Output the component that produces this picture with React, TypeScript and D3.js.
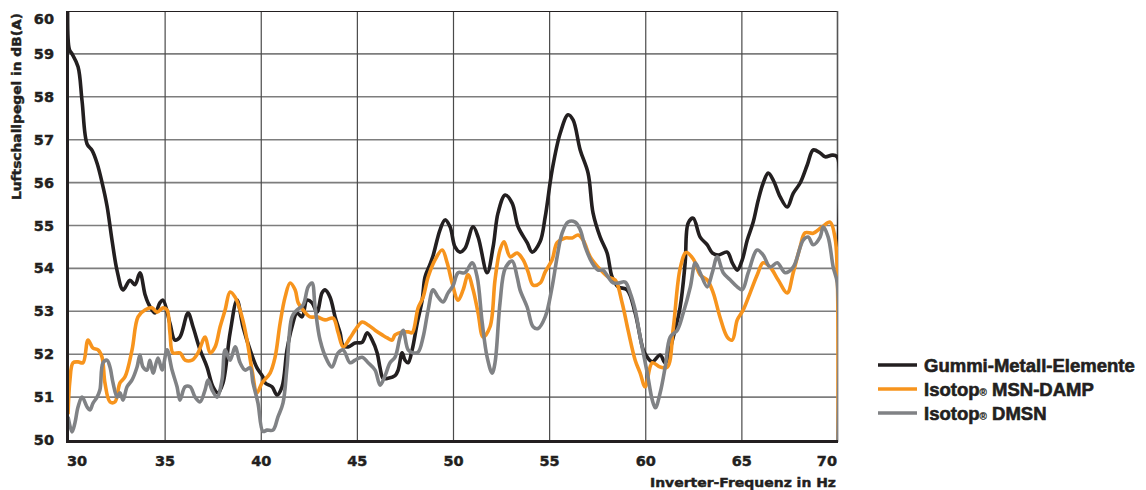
import React, { useEffect, useRef } from "react";
import * as d3 from "d3";

// readings: [frequency in Hz, level in dB(A)]
const gummi: [number, number][] = [
  [29.95, 60.6], [30.02, 59.1], [30.16, 59.0], [30.47, 58.7], [30.68, 57.9], [30.94, 56.9],
  [31.2, 56.75], [31.46, 56.45], [31.72, 56.0], [31.98, 55.45], [32.24, 54.65], [32.5, 53.95],
  [32.81, 53.5], [33.17, 53.72], [33.43, 53.62], [33.69, 53.9], [33.95, 53.4], [34.11, 53.2],
  [34.47, 52.96], [34.73, 53.2], [34.89, 53.26], [35.25, 52.72], [35.51, 52.33], [35.77, 52.4],
  [36.19, 52.96], [36.45, 52.64], [36.82, 52.1], [37.18, 51.7], [37.49, 51.24], [37.75, 51.1],
  [38.01, 51.33], [38.38, 52.5], [38.74, 53.26], [39.05, 52.64], [39.42, 52.1], [39.78, 51.68],
  [40.09, 51.47], [40.2, 51.33], [40.56, 51.24], [40.82, 51.05], [41.08, 51.24], [41.34, 52.1],
  [41.6, 52.64], [41.86, 52.96], [42.12, 52.87], [42.38, 53.26], [42.64, 53.2], [42.9, 52.98],
  [43.16, 53.43], [43.32, 53.5], [43.58, 53.33], [43.84, 52.87], [44.1, 52.5], [44.26, 52.2],
  [44.52, 52.17], [44.88, 52.26], [45.25, 52.28], [45.51, 52.5], [45.77, 52.33], [46.03, 52.03],
  [46.18, 51.68], [46.34, 51.44], [46.6, 51.44], [46.96, 51.5], [47.12, 51.63], [47.33, 52.03],
  [47.48, 51.86], [47.64, 51.8], [47.85, 52.1], [48.11, 52.72], [48.37, 53.26], [48.52, 53.8],
  [48.78, 54.1], [48.94, 54.3], [49.3, 54.9], [49.56, 55.13], [49.82, 54.97], [50.08, 54.5],
  [50.34, 54.38], [50.6, 54.47], [51.02, 54.97], [51.28, 54.73], [51.75, 53.9], [52.06, 54.5],
  [52.32, 55.3], [52.69, 55.71], [53.05, 55.52], [53.36, 54.97], [53.83, 54.6], [54.09, 54.38],
  [54.5, 54.62], [54.77, 55.2], [55.13, 56.29], [55.55, 57.15], [55.96, 57.58], [56.22, 57.46],
  [56.59, 56.76], [57.0, 56.22], [57.26, 55.29], [57.63, 54.73], [57.99, 54.36], [58.25, 53.8],
  [58.57, 53.57], [59.03, 53.5], [59.45, 52.96], [59.87, 52.1], [60.08, 51.93], [60.34, 51.82],
  [60.75, 51.98], [61.01, 51.8], [61.43, 52.4], [61.79, 53.1], [62.05, 54.13], [62.21, 55.06],
  [62.47, 55.17], [62.83, 54.73], [63.2, 54.55], [63.46, 54.36], [63.77, 54.31], [64.24, 54.38],
  [64.5, 54.13], [64.76, 53.96], [65.02, 54.2], [65.28, 54.66], [65.59, 55.08], [65.85, 55.59],
  [66.11, 55.99], [66.37, 56.22], [66.63, 56.06], [67.0, 55.66], [67.36, 55.43], [67.67, 55.75],
  [68.03, 55.99], [68.4, 56.41], [68.71, 56.76], [69.07, 56.69], [69.33, 56.6], [69.7, 56.64],
  [69.96, 56.6], [70.0, 54.5],
];

const msnDamp: [number, number][] = [
  [29.95, 50.6], [30.05, 51.4], [30.21, 51.8], [30.47, 51.82], [30.73, 51.8], [30.99, 52.33],
  [31.25, 52.14], [31.51, 52.1], [31.72, 51.93], [31.87, 51.33], [32.13, 50.89], [32.39, 50.89],
  [32.65, 51.33], [32.91, 51.47], [33.28, 52.1], [33.59, 52.87], [33.95, 53.03], [34.32, 53.08],
  [34.58, 52.98], [34.89, 53.08], [35.1, 53.03], [35.25, 52.5], [35.41, 52.03], [35.77, 52.03],
  [36.04, 51.86], [36.4, 51.86], [36.71, 52.03], [37.08, 52.4], [37.34, 52.03], [37.6, 52.17],
  [37.86, 52.64], [38.12, 53.03], [38.38, 53.45], [38.64, 53.33], [39.0, 52.87], [39.26, 52.33],
  [39.52, 51.63], [39.78, 51.1], [40.04, 51.33], [40.46, 51.56], [40.72, 51.93], [40.98, 52.72],
  [41.24, 53.33], [41.5, 53.66], [41.76, 53.5], [41.92, 53.2], [42.18, 53.03], [42.54, 52.87],
  [42.9, 52.87], [43.32, 52.8], [43.74, 52.84], [44.0, 52.5], [44.26, 52.17], [44.62, 52.38],
  [44.88, 52.56], [45.25, 52.75], [45.56, 52.68], [45.92, 52.56], [46.29, 52.45], [46.55, 52.38],
  [46.81, 52.33], [46.96, 52.45], [47.33, 52.52], [47.64, 52.52], [47.85, 52.5], [48.16, 53.08],
  [48.42, 53.33], [48.68, 53.8], [49.04, 54.2], [49.41, 54.43], [49.67, 54.13], [49.93, 53.66],
  [50.24, 53.26], [50.5, 53.5], [50.76, 53.85], [51.02, 53.5], [51.28, 52.96], [51.54, 52.4],
  [51.9, 52.64], [52.16, 53.73], [52.42, 54.43], [52.63, 54.62], [52.95, 54.27], [53.31, 54.36],
  [53.62, 54.2], [53.88, 53.92], [54.14, 53.61], [54.51, 53.66], [54.77, 53.92], [55.13, 54.2],
  [55.39, 54.6], [55.81, 54.71], [56.17, 54.71], [56.48, 54.78], [56.74, 54.66], [57.11, 54.27],
  [57.52, 54.03], [58.04, 53.8], [58.41, 53.73], [58.77, 53.2], [59.08, 52.56], [59.45, 51.86],
  [59.71, 51.56], [59.97, 51.24], [60.34, 51.8], [60.75, 51.7], [61.12, 51.7], [61.43, 52.6],
  [61.79, 54.0], [62.1, 54.37], [62.47, 54.22], [62.83, 53.85], [63.2, 53.73], [63.51, 53.43],
  [63.87, 52.85], [64.24, 52.4], [64.5, 52.33], [64.76, 52.8], [65.07, 53.03], [65.43, 53.43],
  [65.8, 53.85], [66.11, 54.13], [66.47, 54.03], [66.89, 53.73], [67.36, 53.43], [67.67, 53.9],
  [68.03, 54.5], [68.29, 54.83], [68.71, 54.82], [69.18, 54.97], [69.59, 55.08], [69.85, 54.7],
  [69.96, 53.9], [70.0, 50.0],
];

const dmsn: [number, number][] = [
  [29.95, 50.54], [30.16, 50.19], [30.31, 50.4], [30.47, 50.77], [30.68, 51.0], [30.94, 50.77],
  [31.09, 50.7], [31.25, 50.86], [31.46, 51.0], [31.61, 51.17], [31.77, 51.8], [31.98, 51.86],
  [32.13, 51.7], [32.29, 51.33], [32.5, 51.0], [32.65, 51.1], [32.81, 50.93], [33.02, 51.24],
  [33.28, 51.4], [33.54, 51.7], [33.69, 51.98], [33.85, 51.7], [34.06, 51.63], [34.21, 51.86],
  [34.37, 51.56], [34.63, 51.91], [34.84, 51.63], [35.1, 52.1], [35.36, 51.63], [35.62, 51.24],
  [35.77, 50.93], [36.04, 51.24], [36.3, 51.24], [36.56, 51.0], [36.82, 50.89], [37.08, 51.17],
  [37.23, 51.4], [37.44, 51.17], [37.7, 51.0], [37.96, 51.4], [38.12, 52.1], [38.38, 51.86],
  [38.64, 52.17], [38.9, 51.8], [39.16, 51.63], [39.42, 51.68], [39.57, 51.33], [39.83, 50.86],
  [40.09, 50.2], [40.3, 50.23], [40.61, 50.23], [40.87, 50.54], [41.13, 50.86], [41.34, 51.7],
  [41.6, 52.87], [41.86, 53.03], [42.18, 53.15], [42.44, 53.57], [42.64, 53.66], [42.8, 53.1],
  [43.06, 52.33], [43.42, 51.86], [43.68, 51.7], [44.0, 52.03], [44.26, 52.1], [44.62, 51.8],
  [44.88, 51.86], [45.25, 51.93], [45.56, 51.8], [45.92, 51.63], [46.18, 51.28], [46.44, 51.5],
  [46.7, 51.8], [46.96, 51.93], [47.22, 52.4], [47.38, 52.56], [47.64, 52.1], [47.9, 52.03],
  [48.16, 52.05], [48.42, 52.4], [48.68, 53.03], [48.94, 53.5], [49.2, 53.33], [49.46, 53.22],
  [49.72, 53.43], [49.98, 53.6], [50.24, 53.9], [50.6, 53.9], [50.97, 54.13], [51.23, 53.8],
  [51.49, 52.75], [51.75, 51.93], [52.01, 51.56], [52.16, 51.8], [52.42, 53.2], [52.69, 54.0],
  [53.05, 54.17], [53.31, 53.8], [53.46, 53.5], [53.83, 53.1], [54.14, 52.64], [54.4, 52.6],
  [54.77, 52.87], [55.13, 53.57], [55.39, 54.27], [55.65, 54.82], [55.96, 55.08], [56.33, 55.08],
  [56.59, 54.9], [56.85, 54.5], [57.21, 54.13], [57.52, 53.96], [57.78, 53.96], [58.04, 53.8],
  [58.3, 53.66], [58.57, 53.66], [58.93, 53.68], [59.19, 53.43], [59.45, 53.03], [59.71, 52.4],
  [60.08, 51.56], [60.34, 50.93], [60.5, 50.75], [60.75, 51.1], [61.01, 51.7], [61.27, 52.4],
  [61.64, 52.56], [61.95, 52.96], [62.32, 53.57], [62.58, 54.13], [62.83, 53.9], [63.2, 53.57],
  [63.46, 53.9], [63.72, 54.27], [64.03, 53.9], [64.4, 53.73], [64.76, 53.57], [65.02, 53.5],
  [65.33, 53.9], [65.8, 54.43], [66.11, 54.31], [66.47, 54.03], [66.84, 54.13], [67.25, 53.9],
  [67.67, 54.03], [68.19, 54.66], [68.45, 54.73], [68.71, 54.55], [69.07, 54.73], [69.23, 54.97],
  [69.49, 54.73], [69.75, 54.03], [69.96, 53.66], [70.0, 50.0],
];

const xTicks = [30, 35, 40, 45, 50, 55, 60, 65, 70];
const yTicks = [50, 51, 52, 53, 54, 55, 56, 57, 58, 59, 60];

const seriesNames = ["Gummi-Metall-Elemente", "MSN-DAMP", "DMSN"];
const seriesColors = ["#231f20", "#f7941d", "#808285"];

const FONT = "'DejaVu Sans', sans-serif";
const LEGEND_FONT = "'Liberation Sans', Arial, sans-serif";
const INK = "#231f20";

export default function App() {
  const ref = useRef<SVGSVGElement | null>(null);

  useEffect(() => {
    const svg = d3.select(ref.current);
    svg.selectAll("*").remove();

    const left = 69, right = 838, top = 11, bottom = 440;
    const x = d3.scaleLinear().domain([30, 70]).range([left, right]);
    const y = d3.scaleLinear().domain([50, 60]).range([bottom, top]);

    svg.append("defs").append("clipPath").attr("id", "plotclip")
      .append("rect").attr("x", 66).attr("y", top).attr("width", right - 66).attr("height", bottom - top + 2);

    // grid
    svg.append("g").selectAll("line").data(yTicks.filter(d => d > 50 && d < 60)).enter()
      .append("line")
      .attr("x1", left).attr("x2", right)
      .attr("y1", d => y(d)).attr("y2", d => y(d))
      .attr("stroke", "#7d7d7d").attr("stroke-width", 1.6);

    svg.append("g").selectAll("line").data(xTicks.filter(d => d > 30 && d < 70)).enter()
      .append("line")
      .attr("x1", d => x(d)).attr("x2", d => x(d))
      .attr("y1", top).attr("y2", bottom)
      .attr("stroke", "#4a4a4a").attr("stroke-width", 1.2);

    // frame
    svg.append("line").attr("x1", 67).attr("x2", right).attr("y1", top + 0.5).attr("y2", top + 0.5)
      .attr("stroke", INK).attr("stroke-width", 1);
    svg.append("line").attr("x1", right - 0.5).attr("x2", right - 0.5).attr("y1", top).attr("y2", bottom + 2)
      .attr("stroke", "#555").attr("stroke-width", 1.6);

    const line = d3.line<[number, number]>()
      .x(d => x(d[0]))
      .y(d => y(d[1]))
      .curve(d3.curveCatmullRom.alpha(0.5));

    const plot = svg.append("g").attr("clip-path", "url(#plotclip)");
    [gummi, msnDamp, dmsn].forEach((data, i) => {
      plot.append("path")
        .datum(data)
        .attr("d", line)
        .attr("fill", "none")
        .attr("stroke", seriesColors[i])
        .attr("stroke-width", 3.6)
        .attr("stroke-linejoin", "round");
    });

    // axes lines
    svg.append("line").attr("x1", 67.5).attr("x2", 67.5).attr("y1", top).attr("y2", bottom + 3)
      .attr("stroke", INK).attr("stroke-width", 3);
    svg.append("line").attr("x1", 66).attr("x2", right).attr("y1", bottom + 1.5).attr("y2", bottom + 1.5)
      .attr("stroke", INK).attr("stroke-width", 3);

    const heavy = (sel: any, size: number, family = FONT) =>
      sel.attr("font-family", family).attr("font-weight", "bold").attr("font-size", size)
        .attr("fill", INK).attr("stroke", INK).attr("stroke-width", 0.45);

    // y tick labels
    heavy(svg.append("g").selectAll("text").data(yTicks).enter()
      .append("text")
      .attr("x", 54)
      .attr("y", (d: number) => (d === 60 ? y(d) + 9 : y(d) + 1))
      .attr("text-anchor", "end")
      .attr("dominant-baseline", "middle"), 14.5)
      .text((d: number) => d);

    // x tick labels
    heavy(svg.append("g").selectAll("text").data(xTicks).enter()
      .append("text")
      .attr("x", (d: number) => (d === 30 ? 67 : d === 70 ? 837 : x(d)))
      .attr("y", 466)
      .attr("text-anchor", (d: number) => (d === 30 ? "start" : d === 70 ? "end" : "middle")), 14.5)
      .text((d: number) => d);

    heavy(svg.append("text")
      .attr("x", 836).attr("y", 487)
      .attr("text-anchor", "end")
      .attr("textLength", 186).attr("lengthAdjust", "spacingAndGlyphs"), 13)
      .text("Inverter-Frequenz in Hz");

    heavy(svg.append("text")
      .attr("transform", "translate(21,200) rotate(-90)")
      .attr("x", 0).attr("y", 0)
      .attr("textLength", 187).attr("lengthAdjust", "spacingAndGlyphs"), 13)
      .text("Luftschallpegel in dB(A)");

    // legend
    const legendY = [365, 389, 413];
    const leg = svg.append("g");
    seriesNames.forEach((name, i) => {
      leg.append("line")
        .attr("x1", 878).attr("x2", 917)
        .attr("y1", legendY[i]).attr("y2", legendY[i])
        .attr("stroke", seriesColors[i]).attr("stroke-width", 3.6);
      const t = heavy(leg.append("text")
        .attr("x", 924).attr("y", legendY[i] + 6.5), 18.5, LEGEND_FONT)
        .attr("stroke-width", 0.6);
      if (i === 0) {
        t.text(name);
      } else {
        t.text("Isotop");
        t.append("tspan").attr("font-size", 10).attr("stroke-width", 0.2).text("®");
        t.append("tspan").text(" " + name);
      }
    });
  }, []);

  return (
    <div>
      <svg ref={ref} width={1146} height={490} style={{ display: "block", marginTop: -8, marginLeft: -8 }} />
    </div>
  );
}
